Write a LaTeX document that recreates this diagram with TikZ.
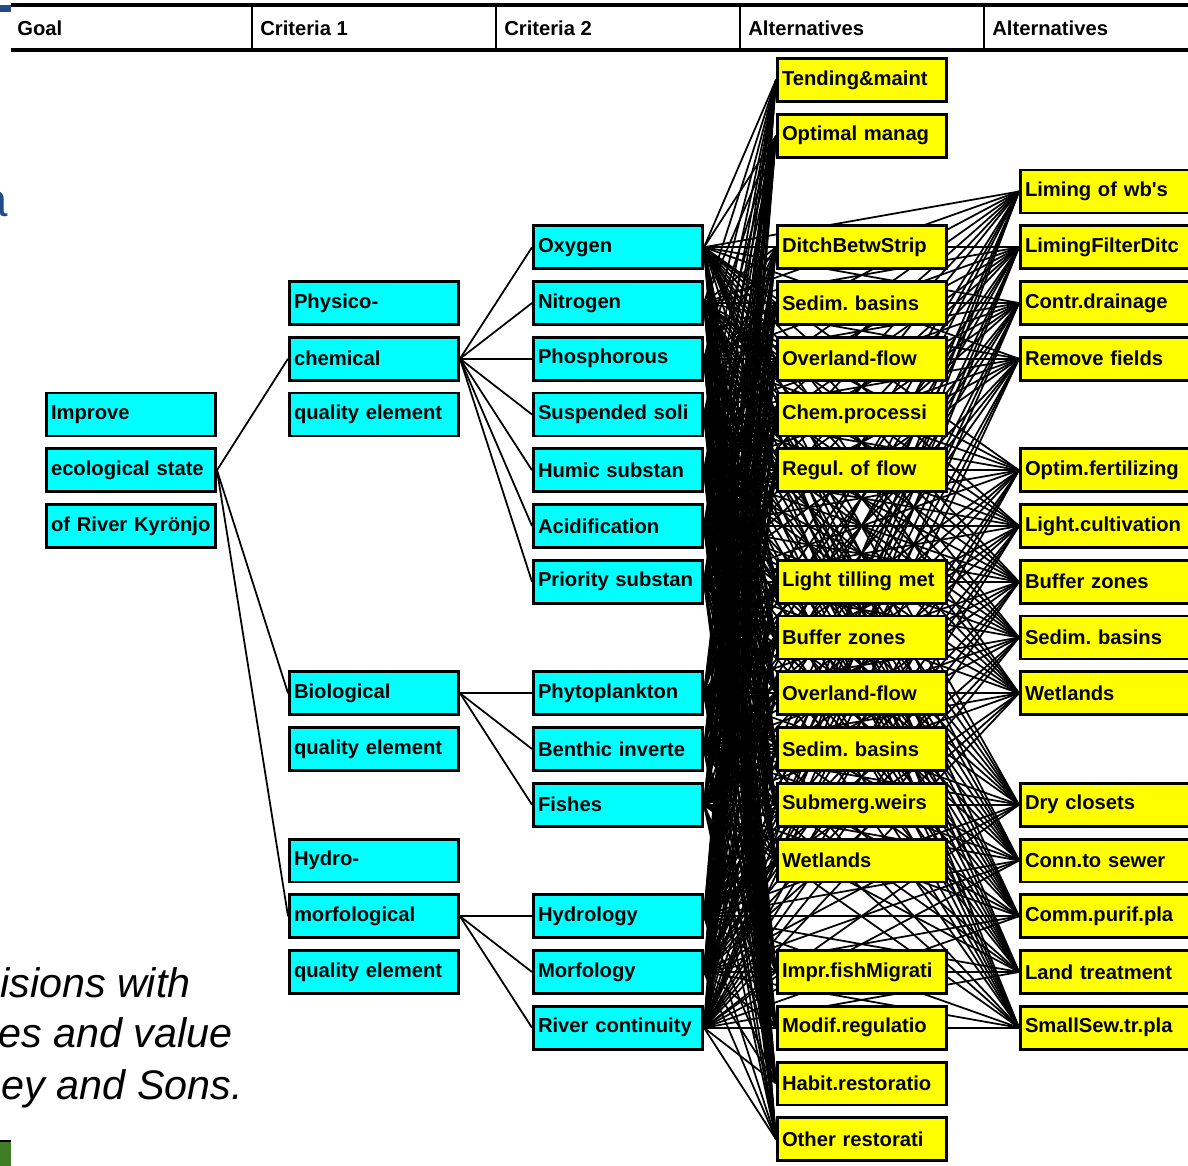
\documentclass[tikz,border=0pt]{standalone}
\usepackage{fontspec}
\setmainfont{Liberation Sans}
\newfontfamily\boxfont{Liberation Sans}
\usepackage{tikz}
\usetikzlibrary{positioning, backgrounds}
\definecolor{critcyan}{RGB}{0,255,255}
\definecolor{altyellow}{RGB}{255,255,0}
\definecolor{slideblue}{RGB}{35,75,135}
\definecolor{slidegreen}{RGB}{64,125,38}
\frenchspacing
\tikzset{
    box/.style={rectangle, draw, line width=1.7pt, minimum height=0.86cm, text width=3.2cm, inner xsep=0.09cm, inner ysep=0pt, align=left, font=\boxfont\fontsize{11.5}{13}\selectfont\bfseries},
    crit/.style={box, fill=critcyan},
    alt/.style={box, fill=altyellow},
    link/.style={line width=1pt},
    head/.style={anchor=west, inner sep=0pt, font=\boxfont\fontsize{11.5}{13}\selectfont\bfseries},
    slidetext/.style={anchor=base east, inner sep=0pt, font=\fontsize{23.5}{28}\selectfont\itshape}
}

\begin{document}
\begin{tikzpicture}[x=0.02cm, y=-0.02cm]
    \useasboundingbox (0,0) rectangle (1188,1166);

    % Slide leftovers
    \fill[slideblue] (0,5) rectangle (11,12);
    \node[anchor=base east, inner sep=0pt, text=slideblue, font=\fontsize{27}{30}\selectfont] (titlea) at (8,216) {a};
    \node[slidetext] (cite1) at (191,997) {isions with};
    \node[slidetext] (cite2) at (233,1047) {es and value};
    \node[slidetext] (cite3) at (243,1099) {ey and Sons.};
    \fill[slidegreen] (0,1141) rectangle (11,1166);
    \draw[line width=0.6pt] (0,1141) -- (11,1141);

    % Header row
    \draw[line width=1.8pt] (11,5) -- (1188,5);
    \draw[line width=1.8pt] (11,50) -- (1188,50);
    \foreach \x in {252,496,740,984}
        \draw[line width=1.3pt] (\x,5) -- (\x,50);
    \node[head] (hgoal) at (17,28) {Goal};
    \node[head] (hcrit1) at (260,28) {Criteria 1};
    \node[head] (hcrit2) at (504,28) {Criteria 2};
    \node[head] (halt1) at (748,28) {Alternatives};
    \node[head] (halt2) at (992,28) {Alternatives};

    % Goal
    \foreach \name/\row/\txt in {gimp/6/Improve, geco/7/ecological state, griv/8/of River Kyrönjo}
        \node[crit] (\name) at (131,{80+55.75*\row}) {\txt};

    % Criteria 1
    \foreach \name/\row/\txt in {phys/4/Physico-, chem/5/chemical, qchem/6/quality element,
                                 bio/11/Biological, qbio/12/quality element,
                                 hydro/14/Hydro-, morf/15/morfological, qmorf/16/quality element}
        \node[crit] (\name) at (374,{80+55.75*\row}) {\txt};

    % Criteria 2
    \foreach \name/\row/\txt in {oxy/3/Oxygen, nitro/4/Nitrogen, phos/5/Phosphorous,
                                 susp/6/Suspended soli, humic/7/Humic substan, acid/8/Acidification,
                                 prio/9/Priority substan, phyto/11/Phytoplankton, benth/12/Benthic inverte,
                                 fish/13/Fishes, hydrol/15/Hydrology, morfol/16/Morfology,
                                 rivcon/17/River continuity}
        \node[crit] (\name) at (618,{80+55.75*\row}) {\txt};

    % Alternatives, first column
    \foreach \row/\txt in {0/Tending\&maint, 1/Optimal manag, 3/DitchBetwStrip, 4/Sedim. basins,
                           5/Overland-flow, 6/Chem.processi, 7/Regul. of flow, 9/Light tilling met,
                           10/Buffer zones, 11/Overland-flow, 12/Sedim. basins, 13/Submerg.weirs,
                           14/Wetlands, 16/Impr.fishMigrati, 17/Modif.regulatio,
                           18/Habit.restoratio, 19/Other restorati}
        \node[alt] (meas\row) at (862,{80+55.75*\row}) {\txt};

    % Alternatives, second column
    \foreach \row/\txt in {2/Liming of wb's, 3/LimingFilterDitc, 4/Contr.drainage, 5/Remove fields,
                           7/Optim.fertilizing, 8/Light.cultivation, 9/Buffer zones,
                           10/Sedim. basins, 11/Wetlands, 13/Dry closets, 14/Conn.to sewer,
                           15/Comm.purif.pla, 16/Land treatment, 17/SmallSew.tr.pla}
        \node[alt] (act\row) at (1105,{80+55.75*\row}) {\txt};

    % Goal to criteria
    \foreach \c in {chem, bio, morf}
        \draw[link] (geco.east) -- (\c.west);
    \foreach \c in {oxy, nitro, phos, susp, humic, acid, prio}
        \draw[link] (chem.east) -- (\c.west);
    \foreach \c in {phyto, benth, fish}
        \draw[link] (bio.east) -- (\c.west);
    \foreach \c in {hydrol, morfol, rivcon}
        \draw[link] (morf.east) -- (\c.west);

    % Criteria to alternatives
    \begin{scope}[on background layer]
        \foreach \c in {oxy, nitro, phos, susp, humic, acid, prio, phyto, benth, fish, hydrol, morfol, rivcon} {
            \foreach \a in {0,1,3,4,5,6,7,9,10,11,12,13,14,16,17,18,19}
                \draw[link] (\c.east) -- (meas\a.west);
            \foreach \b in {2,3,4,5,7,8,9,10,11,13,14,15,16,17}
                \draw[link] (\c.east) -- (act\b.west);
        }
    \end{scope}
\end{tikzpicture}
\end{document}
